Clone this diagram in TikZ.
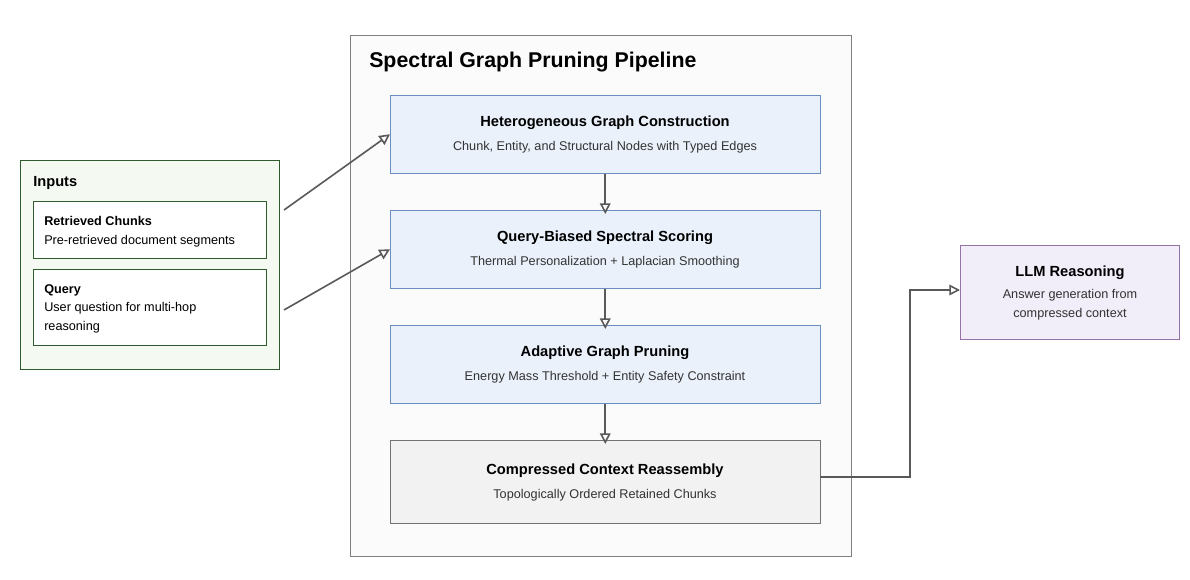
\documentclass[tikz,border=0pt]{standalone}
\usepackage{fontspec}
\setmainfont{Liberation Sans}
\usetikzlibrary{arrows.meta}
\definecolor{sfill}{HTML}{EAF1FB}
\definecolor{sdraw}{HTML}{6C8EBF}
\definecolor{gfill}{HTML}{F4F9F1}
\definecolor{gdraw}{HTML}{2E5A2E}
\definecolor{pfill}{HTML}{F1EDF9}
\definecolor{pdraw}{HTML}{9673A6}
\begin{document}
\begin{tikzpicture}[x=0.75pt,y=-0.75pt,
  box/.style={draw, inner sep=0pt, anchor=north west},
  stage/.style={box, fill=sfill, draw=sdraw, minimum width=430*0.75pt, minimum height=78*0.75pt},
  arr/.style={draw=black!65, line width=1.2pt, -{Triangle[open,length=8pt,width=8pt]}},
  ttl/.style={font=\bfseries\fontsize{11}{13}\selectfont},
  sub/.style={font=\fontsize{9.5}{12}\selectfont, text=black!80}]
\useasboundingbox (0,0) rectangle (1190,580);
% pipeline container
\node[box, draw=black!50, fill=black!1.5, minimum width=501*0.75pt, minimum height=521*0.75pt] (pipe) at (350,35) {};
\node[anchor=west, inner sep=0pt, font=\bfseries\fontsize{16}{19}\selectfont] (ptitle) at (369,62) {Spectral Graph Pruning Pipeline};
% stages
\node[stage] (s1) at (390,95) {};
\node[ttl] (s1t) at (605,123) {Heterogeneous Graph Construction};
\node[sub] (s1s) at (605,147) {Chunk, Entity, and Structural Nodes with Typed Edges};
\node[stage] (s2) at (390,210) {};
\node[ttl] (s2t) at (605,238) {Query-Biased Spectral Scoring};
\node[sub] (s2s) at (605,262) {Thermal Personalization + Laplacian Smoothing};
\node[stage] (s3) at (390,325) {};
\node[ttl] (s3t) at (605,353) {Adaptive Graph Pruning};
\node[sub] (s3s) at (605,377) {Energy Mass Threshold + Entity Safety Constraint};
\node[stage, fill=black!5, draw=black!55, minimum height=83*0.75pt] (s4) at (390,440) {};
\node[ttl] (s4t) at (605,471) {Compressed Context Reassembly};
\node[sub] (s4s) at (605,495) {Topologically Ordered Retained Chunks};
% inputs
\node[box, draw=gdraw, fill=gfill, minimum width=259*0.75pt, minimum height=209*0.75pt] (inp) at (20,160) {};
\node[anchor=west, inner sep=0pt, font=\bfseries\fontsize{11}{13}\selectfont] (inpt) at (33,183) {Inputs};
\node[box, draw=gdraw, fill=white, minimum width=233*0.75pt, minimum height=57*0.75pt] (rc) at (33,201) {};
\node[anchor=north west, align=left, inner sep=0pt, font=\fontsize{9.5}{14}\selectfont] (rct) at (44,216) {\textbf{Retrieved Chunks}\\Pre-retrieved document segments};
\node[box, draw=gdraw, fill=white, minimum width=233*0.75pt, minimum height=76*0.75pt] (q) at (33,269) {};
\node[anchor=north west, align=left, inner sep=0pt, font=\fontsize{9.5}{14}\selectfont] (qt) at (44,284) {\textbf{Query}\\User question for multi-hop\\reasoning};
% LLM
\node[box, draw=pdraw, fill=pfill, minimum width=219*0.75pt, minimum height=94*0.75pt] (llm) at (960,245) {};
\node[ttl] (llmt) at (1070,273) {LLM Reasoning};
\node[sub, align=center, font=\fontsize{9.5}{14}\selectfont] (llms) at (1070,305) {Answer generation from\\compressed context};
% connectors
\coordinate (a1) at (284,210);
\coordinate (a2) at (284,310);
\coordinate (o4) at (820,477);
\coordinate (i5) at (960,290);
\draw[arr] (a1) -- (s1.west);
\draw[arr] (a2) -- (s2.west);
\draw[arr] (s1.south) -- ([yshift=-3pt]s2.north);
\draw[arr] (s2.south) -- ([yshift=-3pt]s3.north);
\draw[arr] (s3.south) -- ([yshift=-3pt]s4.north);
\draw[arr] (o4) -- (910,477) |- (i5);
\end{tikzpicture}
\end{document}
